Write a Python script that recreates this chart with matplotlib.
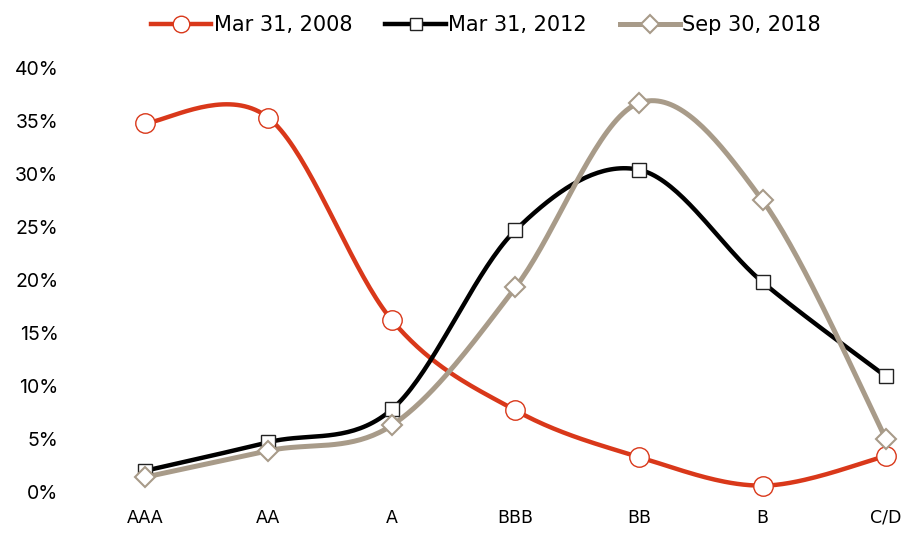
import numpy as np
import matplotlib
matplotlib.use("Agg")
import matplotlib.pyplot as plt

categories = ["AAA", "AA", "A", "BBB", "BB", "B", "C/D"]
s2008 = [34.8, 35.3, 16.2, 7.7, 3.3, 0.6, 3.4]
s2012 = [2.0, 4.7, 7.8, 24.7, 30.4, 19.8, 10.9]
s2018 = [1.4, 3.9, 6.3, 19.3, 36.7, 27.5, 5.0]
labels = ["Mar 31, 2008", "Mar 31, 2012", "Sep 30, 2018"]
yticks = [0, 5, 10, 15, 20, 25, 30, 35, 40]


def smooth(xs, ys, n=40):
    xs = np.asarray(xs, float); ys = np.asarray(ys, float)
    P = np.column_stack([xs, ys])
    out = []
    for i in range(len(P) - 1):
        p0 = P[i - 1] if i > 0 else P[i]
        p1, p2 = P[i], P[i + 1]
        p3 = P[i + 2] if i + 2 < len(P) else P[i + 1]
        c1 = p1 + (p2 - p0) / 6.0
        c2 = p2 - (p3 - p1) / 6.0
        t = np.linspace(0, 1, n)[:, None]
        seg = ((1 - t) ** 3) * p1 + 3 * ((1 - t) ** 2) * t * c1 + 3 * (1 - t) * t ** 2 * c2 + t ** 3 * p2
        out.append(seg if i == 0 else seg[1:])
    s = np.vstack(out)
    return s[:, 0], s[:, 1]


fig = plt.figure(figsize=(9.09, 5.33), dpi=100)
ax = fig.add_axes([100 / 909, 41 / 533, 809 / 909, 424 / 533])

x = np.arange(len(categories))
series = [
    (s2008, "#D9381A", "o", 14, "#D9381A", 1.0, 3.2),
    (s2012, "#000000", "s", 10, "#222222", 1.0, 3.2),
    (s2018, "#A89B89", "D", 10.5, "#A89B89", 1.5, 3.6),
]
handles = []
for (vals, col, mk, ms, mec, mew, lw), lab in zip(series, labels):
    sx, sy = smooth(x, vals)
    ax.plot(sx, sy, color=col, lw=lw, solid_capstyle="round", clip_on=False, zorder=2)
    ax.plot(x, vals, ls="none", marker=mk, ms=ms, mfc="white", mec=mec, mew=mew,
            clip_on=False, zorder=3)
    h, = ax.plot([], [], color=col, lw=lw, marker=mk, ms=ms * 0.85, mfc="white", mec=mec, mew=mew)
    handles.append(h)

ax.set_xlim(-0.364, 6.186)
ax.set_ylim(0, 40)
ax.set_yticks(yticks)
ax.set_yticklabels([f"{v}%" for v in yticks], fontsize=14, family=["Inter", "DejaVu Sans"])
ax.set_xticks(x)
ax.set_xticklabels(categories, fontsize=12.5, family="DejaVu Sans")
ax.tick_params(axis="y", length=0, pad=30)
ax.tick_params(axis="x", length=0, pad=12)
for sp in ax.spines.values():
    sp.set_visible(False)

fig.legend(handles, labels, loc="center", bbox_to_anchor=(486 / 909, 1 - 25 / 533), ncol=3,
           frameon=False, prop={"family": "DejaVu Sans", "size": 15}, handlelength=2.9,
           handletextpad=0.1, columnspacing=1.6)

fig.savefig("out.png", dpi=100)
